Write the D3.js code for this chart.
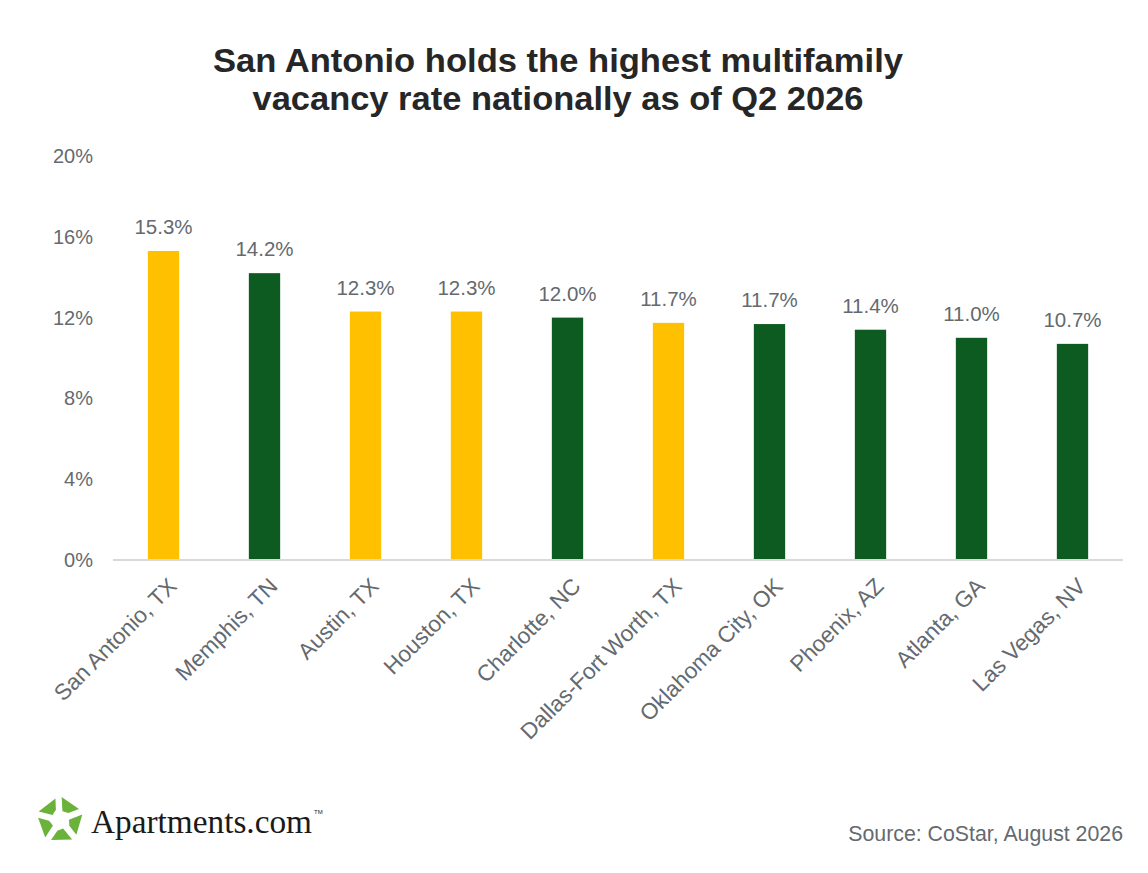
<!DOCTYPE html>
<html>
<head>
<meta charset="utf-8">
<script src="https://cdn.jsdelivr.net/npm/d3@7"></script>
<style>
  body { margin: 0; background: #fff; }
</style>
</head>
<body>
<div id="chart"></div>
<script>
// Metros, Q2 2026 multifamily vacancy (%)
const metros = ["San Antonio, TX", "Memphis, TN", "Austin, TX", "Houston, TX", "Charlotte, NC",
  "Dallas-Fort Worth, TX", "Oklahoma City, OK", "Phoenix, AZ", "Atlanta, GA", "Las Vegas, NV"];
const vacancy = [15.3, 14.2, 12.3, 12.3, 12.0, 11.74, 11.68, 11.4, 11.0, 10.7];
const isTexas = [true, false, true, true, false, true, false, false, false, false];
const yTicks = [0, 4, 8, 12, 16, 20];
const titleLines = ["San Antonio holds the highest multifamily", "vacancy rate nationally as of Q2 2026"];

const W = 1148, H = 873;
const GOLD = "#ffc000", GREEN = "#0e5b21", GREY = "#646a6f";
const SANS = "'Liberation Sans', Arial, sans-serif";

const svg = d3.select("#chart").append("svg")
  .attr("width", W).attr("height", H)
  .style("font-family", SANS);

// title
svg.append("g").selectAll("text")
  .data(titleLines).join("text")
  .attr("x", 558).attr("y", (d, i) => 72 + i * 38)
  .attr("text-anchor", "middle")
  .attr("font-size", 33).attr("font-weight", "bold").attr("fill", "#262626")
  .attr("textLength", (d, i) => i === 0 ? 690 : 611)
  .attr("lengthAdjust", "spacingAndGlyphs")
  .text(d => d);

const x = d3.scaleBand().domain(metros).range([113, 1123])
  .paddingInner(0.69).paddingOuter(0.345);
const y = d3.scaleLinear().domain([0, 20]).range([560, 156]);

// y tick labels (no gridlines)
svg.append("g").selectAll("text")
  .data(yTicks).join("text")
  .attr("x", 93).attr("y", d => y(d)).attr("dy", "0.35em")
  .attr("text-anchor", "end").attr("font-size", 20).attr("fill", GREY)
  .text(d => d + "%");

// bars
svg.append("g").selectAll("rect")
  .data(metros).join("rect")
  .attr("x", d => x(d))
  .attr("y", (d, i) => y(vacancy[i]))
  .attr("width", x.bandwidth())
  .attr("height", (d, i) => y(0) - y(vacancy[i]))
  .attr("fill", (d, i) => isTexas[i] ? GOLD : GREEN);

// value labels
svg.append("g").selectAll("text")
  .data(metros).join("text")
  .attr("x", d => x(d) + x.bandwidth() / 2)
  .attr("y", (d, i) => y(vacancy[i]) - 17)
  .attr("text-anchor", "middle").attr("font-size", 20.5).attr("fill", GREY)
  .text((d, i) => vacancy[i].toFixed(1) + "%");

// baseline
svg.append("line")
  .attr("x1", 113).attr("x2", 1123)
  .attr("y1", y(0)).attr("y2", y(0))
  .attr("stroke", "#d9d9d9").attr("stroke-width", 2);

// category labels, rotated
svg.append("g").selectAll("text")
  .data(metros).join("text")
  .attr("transform", d => `translate(${x(d) + x.bandwidth() / 2 + 9},${y(0) + 22}) rotate(-45)`)
  .attr("text-anchor", "end").attr("dy", "0.35em")
  .attr("font-size", 22.5).attr("fill", GREY)
  .text(d => d);

// source
svg.append("text")
  .attr("x", 1123).attr("y", 841)
  .attr("text-anchor", "end").attr("font-size", 21.3).attr("fill", GREY)
  .text("Source: CoStar, August 2026");

// logo: five green pieces around a star-shaped hole
const logo = svg.append("g").attr("transform", "translate(60,820)");
const pt = (deg, r) => [r * Math.cos(deg * Math.PI / 180), r * Math.sin(deg * Math.PI / 180)].join(",");
d3.range(5).forEach(k => {
  const a = -90 + 72 * k;
  logo.append("polygon")
    .attr("points", [pt(a + 4, 23), pt(a + 60, 22), pt(a + 50, 11), pt(a + 16, 9)].join(" "))
    .attr("fill", "#6ab23a");
});
svg.append("text")
  .attr("x", 91).attr("y", 833)
  .style("font-family", "'Liberation Serif', 'DejaVu Serif', serif")
  .attr("font-size", 33).attr("fill", "#1a1a1a")
  .attr("textLength", 221).attr("lengthAdjust", "spacingAndGlyphs")
  .text("Apartments.com");
svg.append("text")
  .attr("x", 314).attr("y", 814)
  .attr("font-size", 6).attr("fill", "#1a1a1a")
  .text("TM");
</script>
</body>
</html>
